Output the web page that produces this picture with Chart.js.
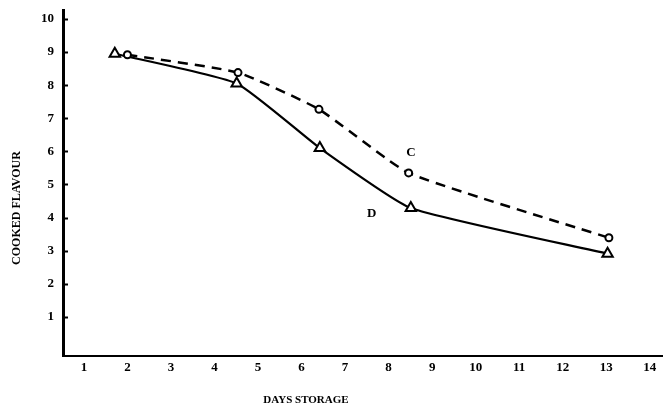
<!DOCTYPE html>
<html>
<head>
<meta charset="utf-8">
<script src="https://cdn.jsdelivr.net/npm/chart.js@4.4.1/dist/chart.umd.min.js"></script>
<style>
  html, body { margin: 0; padding: 0; background: #fff; }
  #wrap { width: 664px; height: 412px; }
</style>
</head>
<body>
<div id="wrap"><canvas id="flavourChart" width="664" height="412"></canvas></div>
<script>
// days storage (as placed against the drawn axis) and cooked flavour scores
const daysC = [2.0, 4.54, 6.4, 8.46, 13.06];
const flavourC = [8.92, 8.38, 7.27, 5.35, 3.39];
const daysD = [1.71, 4.51, 6.42, 8.51, 13.03];
const flavourD = [8.95, 8.05, 6.1, 4.29, 2.91];
const xTicks = [1, 2, 3, 4, 5, 6, 7, 8, 9, 10, 11, 12, 13, 14];
const yTicks = [1, 2, 3, 4, 5, 6, 7, 8, 9, 10];
const curveLabels = [
    { text: 'C', x: 8.51, y: 5.95 },
    { text: 'D', x: 7.61, y: 4.11 }
];

const serif = '"Liberation Serif", "DejaVu Serif", serif';

function toPoints(xs, ys) {
    return xs.map((x, i) => ({ x: x, y: ys[i] }));
}

// tick marks on the inside of the y axis, curve letters and axis titles
const extras = {
    id: 'extras',
    afterDraw(chart) {
        const ctx = chart.ctx;
        const xs = chart.scales.x;
        const ys = chart.scales.y;
        ctx.save();
        ctx.strokeStyle = '#000';
        ctx.lineWidth = 2;
        yTicks.forEach(v => {
            const py = Math.round(ys.getPixelForValue(v)) + 0.5;
            ctx.beginPath();
            ctx.moveTo(chart.chartArea.left, py);
            ctx.lineTo(chart.chartArea.left + 5, py);
            ctx.stroke();
        });

        ctx.fillStyle = '#000';
        ctx.font = 'bold 13px ' + serif;
        ctx.textAlign = 'center';
        ctx.textBaseline = 'middle';
        curveLabels.forEach(l => {
            ctx.fillText(l.text, xs.getPixelForValue(l.x), ys.getPixelForValue(l.y));
        });

        ctx.font = 'bold 11px ' + serif;
        ctx.fillText('DAYS STORAGE', 306, 400);

        ctx.translate(17, 208);
        ctx.rotate(-Math.PI / 2);
        ctx.font = 'bold 12px ' + serif;
        ctx.fillText('COOKED FLAVOUR', 0, 0);
        ctx.restore();
    }
};

const ctx = document.getElementById('flavourChart').getContext('2d');
new Chart(ctx, {
    type: 'line',
    data: {
        datasets: [
            {
                label: 'C',
                data: toPoints(daysC, flavourC),
                borderColor: '#000',
                borderWidth: 2.5,
                borderDash: [10, 7],
                tension: 0.15,
                pointStyle: 'circle',
                pointRadius: 3.5,
                pointBorderWidth: 2,
                pointBackgroundColor: '#fff',
                pointBorderColor: '#000'
            },
            {
                label: 'D',
                data: toPoints(daysD, flavourD),
                borderColor: '#000',
                borderWidth: 2.2,
                tension: 0.15,
                pointStyle: 'triangle',
                pointRadius: 6,
                pointBorderWidth: 2,
                pointBackgroundColor: '#fff',
                pointBorderColor: '#000'
            }
        ]
    },
    options: {
        responsive: false,
        animation: false,
        layout: {
            autoPadding: false,
            padding: { top: 10, right: 2, left: 0, bottom: 0 }
        },
        plugins: {
            legend: { display: false },
            tooltip: { enabled: false }
        },
        scales: {
            x: {
                type: 'linear',
                min: 0.52,
                max: 14.28,
                afterBuildTicks: s => { s.ticks = xTicks.map(v => ({ value: v })); },
                afterFit: s => {
                    s.height = 56;
                    s.paddingLeft = 0;
                    s.paddingRight = 0;
                },
                grid: { display: false, drawTicks: false },
                border: { display: true, color: '#000', width: 2 },
                ticks: {
                    color: '#000',
                    padding: 4,
                    maxRotation: 0,
                    autoSkip: false,
                    font: { family: serif, size: 13, weight: 'bold' }
                }
            },
            y: {
                type: 'linear',
                min: -0.18,
                max: 10.27,
                afterBuildTicks: s => { s.ticks = yTicks.map(v => ({ value: v })); },
                afterFit: s => {
                    s.width = 63;
                    s.paddingTop = 0;
                    s.paddingBottom = 0;
                },
                grid: { display: false, drawTicks: false },
                border: { display: true, color: '#000', width: 3 },
                ticks: {
                    color: '#000',
                    padding: 9,
                    font: { family: serif, size: 13, weight: 'bold' }
                }
            }
        }
    },
    plugins: [extras]
});
</script>
</body>
</html>
